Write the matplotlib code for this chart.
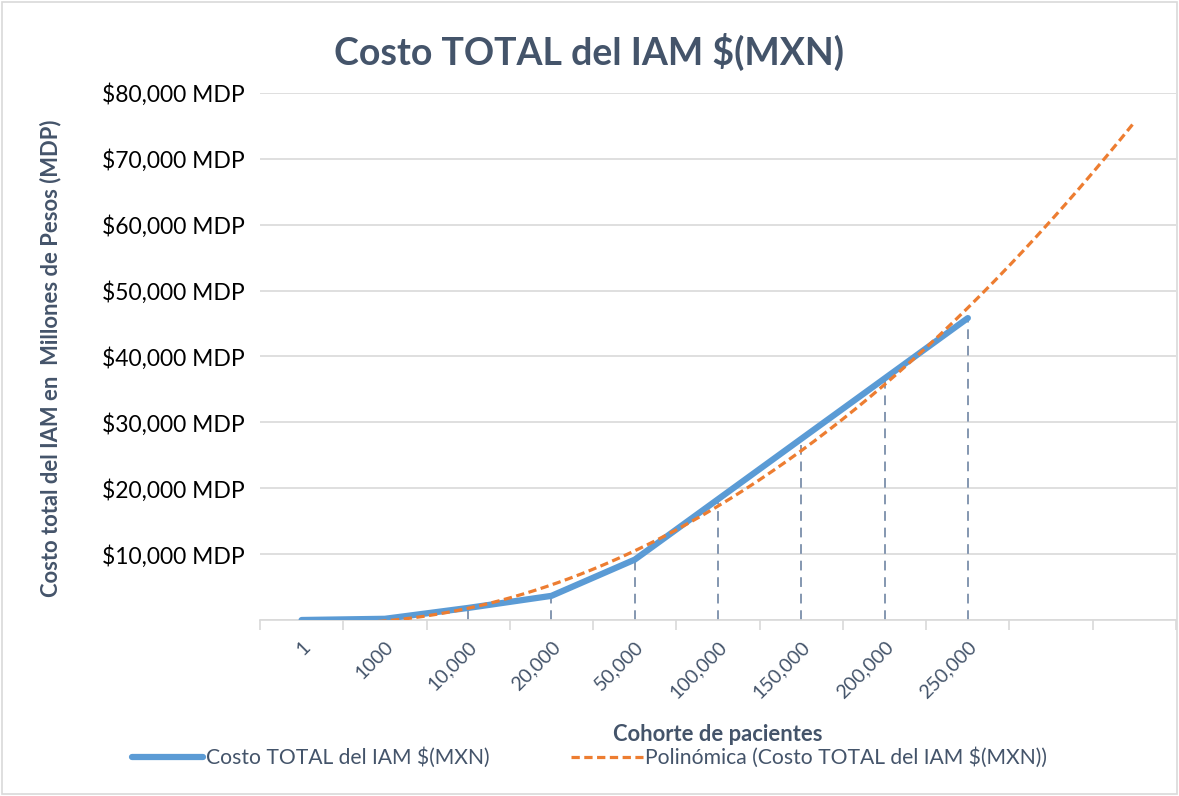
import matplotlib.pyplot as plt
import numpy as np

# data (millions of pesos)
cohorts = ['1', '1000', '10,000', '20,000', '50,000', '100,000', '150,000', '200,000', '250,000']
cost_mdp = [0.18, 183, 1833, 3666, 9165, 18330, 27500, 36660, 45830]
forward_periods = 2

slate = '#44546A'
plt.rcParams['font.family'] = ['Lato', 'DejaVu Sans']

fig = plt.figure(figsize=(11.79, 7.96), dpi=100)
ax = fig.add_axes([0.2205, 0.2211, 0.777, 0.6621])

x = np.arange(1, len(cohorts) + 1)
y = np.array(cost_mdp)

# Excel style polynomial trendline (order 2) extended forward 2 periods
coef = np.polyfit(x, y, 2)
xt = np.linspace(1, len(cohorts) + forward_periods, 300)
yt = np.polyval(coef, xt)

# drop lines
ax.vlines(x, 0, y, colors='#8497B0', linestyles=(0, (5, 3.5)), linewidth=1.4, zorder=2)
ax.plot(x, y, color='#5B9BD5', linewidth=4.5, solid_capstyle='round', zorder=3,
        label='Costo TOTAL del IAM $(MXN)')
ax.plot(xt, yt, color='#ED7D31', linewidth=2.3, linestyle=(0, (2.6, 1.4)), zorder=4,
        label='Polinómica (Costo TOTAL del IAM $(MXN))')

ax.set_xlim(0.5, len(cohorts) + forward_periods + 0.5)
ax.set_ylim(0, 80000)

yt_vals = np.arange(0, 80001, 10000)
ax.set_yticks(yt_vals)
ax.set_yticklabels(['' if v == 0 else '${:,.0f} MDP'.format(v) for v in yt_vals],
                   fontsize=16.5, color='black')
ax.tick_params(axis='y', length=0, pad=11)
ax.grid(axis='y', color='#D9D9D9', linewidth=1.2)
ax.set_axisbelow(True)

ax.set_xticks(x)
ax.set_xticklabels(cohorts, rotation=45, ha='right', rotation_mode='anchor',
                   fontsize=14, color=slate)
ax.tick_params(axis='x', which='major', length=0, pad=13)
ax.set_xticks(np.arange(0.5, len(cohorts) + forward_periods + 1), minor=True)
ax.tick_params(axis='x', which='minor', length=7, color='#D9D9D9', width=1.2)

for s in ['top', 'right', 'left']:
    ax.spines[s].set_visible(False)
ax.spines['bottom'].set_color('#D9D9D9')
ax.spines['bottom'].set_linewidth(1.2)

fig.text(0.5, 0.935, 'Costo TOTAL del IAM $(MXN)', ha='center', va='center',
         fontsize=27, fontweight='bold', color=slate)
fig.text(0.0425, 0.55, 'Costo total del IAM en  Millones de Pesos (MDP)', rotation=90,
         ha='center', va='center', fontsize=15.8, fontweight='bold', color=slate)
fig.text(0.609, 0.077, 'Cohorte de pacientes', ha='center', va='center',
         fontsize=15.8, fontweight='bold', color=slate)

leg = fig.legend(loc='center', bbox_to_anchor=(0.5, 0.048), ncol=2, frameon=False,
                 fontsize=15.2, handlelength=3.4, handletextpad=0.1, columnspacing=3.9)
for t in leg.get_texts():
    t.set_color(slate)

fig.patches.append(plt.Rectangle((0.002, 0.003), 0.996, 0.994, transform=fig.transFigure,
                                 fill=False, edgecolor='#D9D9D9', linewidth=1.2))

fig.savefig('out.png', dpi=100)
